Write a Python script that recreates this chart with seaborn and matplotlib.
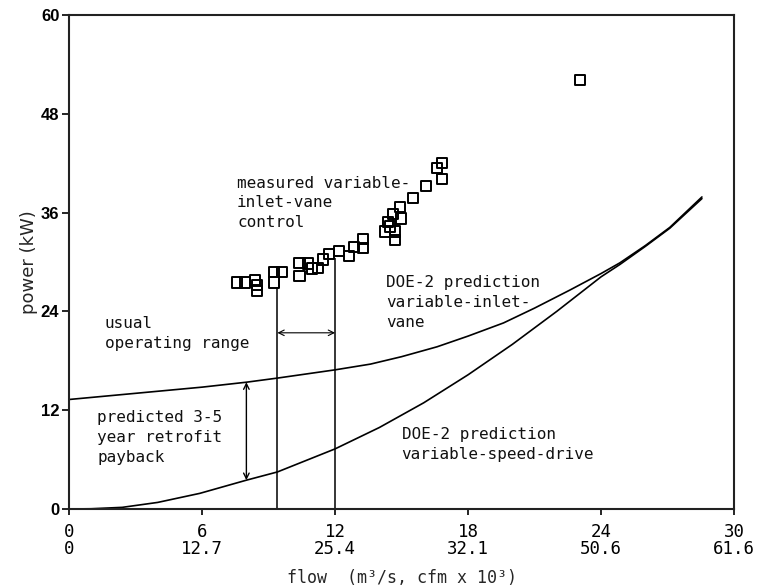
import matplotlib
matplotlib.use("Agg")
import matplotlib.pyplot as plt
import seaborn as sns
import pandas as pd

# measured fan power with variable-inlet-vane control
flow_measured = [7.58, 7.94, 8.39, 8.48, 8.48, 9.25, 9.25, 9.61, 10.4, 10.4,
                 10.78, 10.96, 11.23, 11.46, 11.73, 12.18, 12.63, 12.86, 13.26, 13.26,
                 14.25, 14.39, 14.48, 14.61, 14.70, 14.70, 14.93, 14.98, 15.52, 16.10,
                 16.60, 16.82, 16.82, 23.05]
power_measured = [27.5, 27.5, 27.8, 27.2, 26.5, 27.5, 28.8, 28.8, 29.9, 28.3,
                  29.8, 29.2, 29.3, 30.3, 31.0, 31.3, 30.7, 31.8, 32.8, 31.7,
                  33.7, 34.9, 34.3, 35.8, 33.7, 32.7, 36.7, 35.3, 37.8, 39.2,
                  41.4, 42.0, 40.1, 52.1]

# DOE-2 prediction, variable-inlet-vane
flow_vane = [0, 2, 4, 6, 8, 9.4, 12, 13.6, 15, 16.6, 18, 19.6, 21, 22.6, 24, 24.85, 26, 27.1, 28.55]
power_vane = [13.3, 13.8, 14.3, 14.8, 15.4, 15.9, 16.9, 17.6, 18.5, 19.7, 21.0, 22.6,
              24.4, 26.6, 28.6, 29.9, 32.0, 34.2, 37.9]

# DOE-2 prediction, variable-speed-drive
flow_vsd = [0, 1, 2.4, 4, 5.9, 8, 9.4, 12, 14, 16, 18, 20, 22, 24, 24.85, 26, 27.1, 28.55]
power_vsd = [0, 0.03, 0.2, 0.8, 1.9, 3.5, 4.5, 7.3, 9.9, 12.9, 16.3, 20.0, 24.0, 28.2,
             29.7, 31.9, 34.1, 37.7]

# usual operating range
range_flow = [9.4, 12.0]
range_top = [27.0, 30.5]

x_ticks = [0, 6, 12, 18, 24, 30]
x_ticks_cfm = ["0", "12.7", "25.4", "32.1", "50.6", "61.6"]
y_ticks = [0, 12, 24, 36, 48, 60]

sns.set_style("ticks")
mono = "DejaVu Sans Mono"

fig = plt.figure(figsize=(7.57, 5.86), dpi=100)
ax = fig.add_axes([0.0912, 0.1314, 0.8785, 0.843])

df_meas = pd.DataFrame({"flow": flow_measured, "power": power_measured})
df_vane = pd.DataFrame({"flow": flow_vane, "power": power_vane})
df_vsd = pd.DataFrame({"flow": flow_vsd, "power": power_vsd})

sns.lineplot(data=df_vane, x="flow", y="power", ax=ax, color="black", lw=1.2,
             sort=False, estimator=None)
sns.lineplot(data=df_vsd, x="flow", y="power", ax=ax, color="black", lw=1.2,
             sort=False, estimator=None)
sns.scatterplot(data=df_meas, x="flow", y="power", ax=ax, marker="s", s=55,
                facecolor="none", edgecolor="black", linewidth=1.4, zorder=4)

ax.vlines(range_flow, [0, 0], range_top, colors="black", lw=1.1)

ax.annotate("", xy=(range_flow[0], 21.4), xytext=(range_flow[1], 21.4),
            arrowprops=dict(arrowstyle="<->", lw=0.8, color="black",
                            shrinkA=0, shrinkB=0))
ax.annotate("", xy=(8.0, 15.4), xytext=(8.0, 3.5),
            arrowprops=dict(arrowstyle="<->", lw=1.0, color="black",
                            shrinkA=0, shrinkB=0))

txt = dict(family=mono, fontsize=11.5, color="#111111", linespacing=1.4, va="top")
ax.text(7.58, 40.5, "measured variable-\ninlet-vane\ncontrol", **txt)
ax.text(14.3, 28.4, "DOE-2 prediction\nvariable-inlet-\nvane", **txt)
ax.text(1.62, 23.4, "usual\noperating range", **txt)
ax.text(1.27, 12.0, "predicted 3-5\nyear retrofit\npayback", **txt)
ax.text(15.0, 9.9, "DOE-2 prediction\nvariable-speed-drive", **txt)

ax.set_xlim(0, 30)
ax.set_ylim(0, 60)
ax.set_xticks(x_ticks)
ax.set_xticklabels([f"{a}\n{b}" for a, b in zip(x_ticks, x_ticks_cfm)],
                   family=mono, fontsize=12.5, linespacing=0.95)
ax.set_yticks(y_ticks)
ax.set_yticklabels([str(v) for v in y_ticks], family="Liberation Sans",
                   fontweight="bold", fontsize=12)
ax.tick_params(axis="x", direction="out", length=4, width=1.2, pad=6, colors="black")
ax.tick_params(axis="y", direction="out", length=5, width=1.2, pad=2, colors="black")
for s in ax.spines.values():
    s.set_visible(True)
    s.set_linewidth(1.5)
    s.set_color("#222222")

ax.set_xlabel("flow  (m³/s, cfm x 10³)", family=mono, fontsize=12)
ax.set_ylabel("power (kW)", family="DejaVu Sans", fontsize=13, labelpad=2)
ax.xaxis.set_label_coords(0.50, -0.122)

fig.savefig("out.png", dpi=100, facecolor="white")
